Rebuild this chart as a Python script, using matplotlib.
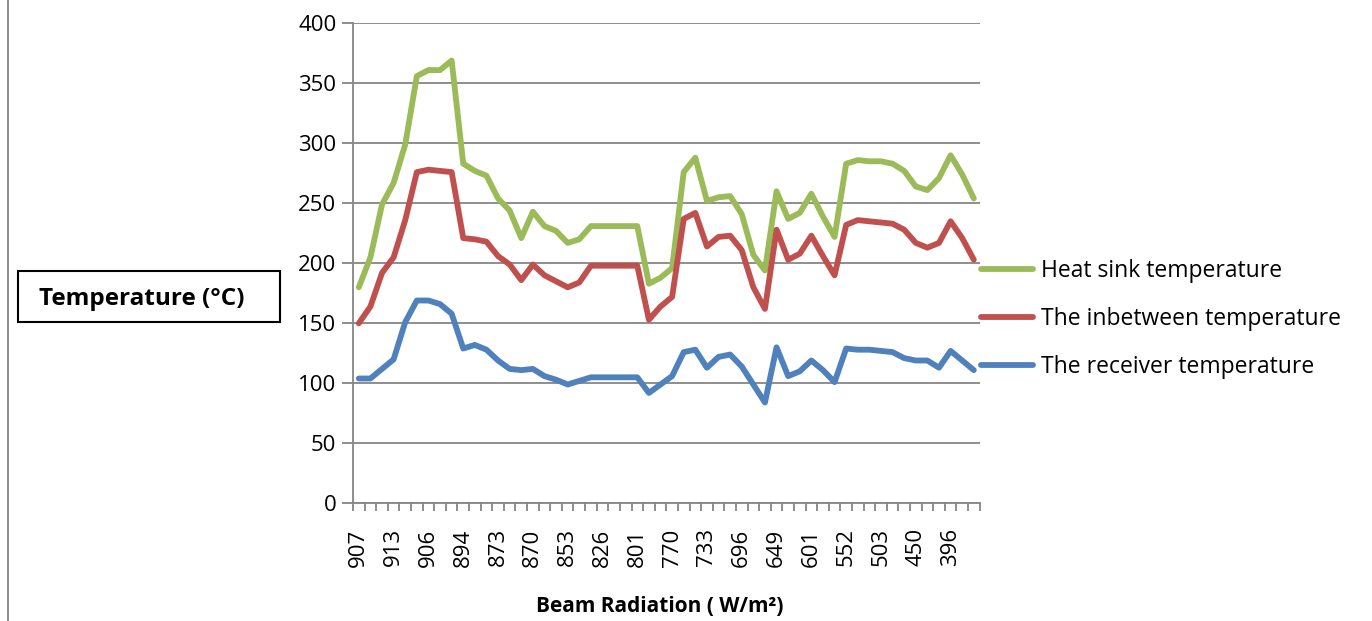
import numpy as np
import matplotlib
matplotlib.use("Agg")
import matplotlib.pyplot as plt
from matplotlib.patches import Rectangle
from matplotlib.lines import Line2D

# readings, one per measurement (54 of them), x labels shown every 3rd point
beam_labels = ["907", "913", "906", "894", "873", "870", "853", "826", "801",
               "770", "733", "696", "649", "601", "552", "503", "450", "396"]

heat_sink = [180, 205, 249, 267, 299, 356, 361, 361, 369, 283,
             277, 273, 254, 244, 221, 243, 231, 227, 217, 220,
             231, 231, 231, 231, 231, 183, 188, 196, 276, 288,
             252, 255, 256, 241, 207, 194, 260, 237, 242, 258,
             239, 222, 283, 286, 285, 285, 283, 277, 264, 261,
             271, 290, 274, 254]

inbetween = [150, 164, 192, 205, 236, 276, 278, 277, 276, 221,
             220, 218, 206, 199, 186, 199, 190, 185, 180, 184,
             198, 198, 198, 198, 198, 153, 164, 172, 237, 242,
             214, 222, 223, 211, 180, 162, 228, 203, 208, 223,
             206, 190, 232, 236, 235, 234, 233, 228, 217, 213,
             217, 235, 221, 203]

receiver = [104, 104, 112, 120, 151, 169, 169, 166, 158, 129,
            132, 128, 119, 112, 111, 112, 106, 103, 99, 102,
            105, 105, 105, 105, 105, 92, 99, 106, 126, 128,
            113, 122, 124, 114, 99, 84, 130, 106, 110, 119,
            111, 101, 129, 128, 128, 127, 126, 121, 119, 119,
            113, 127, 119, 111]

GREEN = "#9BBB59"
RED = "#C0504D"
BLUE = "#4F81BD"
GRID = "#868686"

plt.rcParams["font.family"] = ["Open Sans", "DejaVu Sans"]

fig = plt.figure(figsize=(13.72, 6.21), dpi=100)
ax = fig.add_axes([0.2573, 0.1895, 0.4567, 0.773])

x = np.arange(len(heat_sink))
ax.plot(x, heat_sink, color=GREEN, lw=4.2, solid_joinstyle="round", solid_capstyle="round",
        label="Heat sink temperature")
ax.plot(x, inbetween, color=RED, lw=4.2, solid_joinstyle="round", solid_capstyle="round",
        label="The inbetween temperature")
ax.plot(x, receiver, color=BLUE, lw=4.2, solid_joinstyle="round", solid_capstyle="round",
        label="The receiver temperature")

ax.set_xlim(-0.5, len(x) - 0.5)
ax.set_ylim(0, 400)
ax.set_yticks(np.arange(0, 401, 50))
ax.yaxis.grid(True, color=GRID, lw=1.3)
ax.set_axisbelow(True)

ax.set_xticks(np.arange(0, len(x), 3))
ax.set_xticklabels(beam_labels, rotation=90)
ax.set_xticks(np.arange(-0.5, len(x), 1), minor=True)
ax.tick_params(axis="x", which="major", length=0, pad=18, labelsize=16)
ax.tick_params(axis="x", which="minor", length=6, color=GRID, width=1.3)
ax.tick_params(axis="y", length=8, color=GRID, width=1.3, labelsize=16, pad=4)

for s in ["top", "right"]:
    ax.spines[s].set_visible(False)
for s in ["left", "bottom"]:
    ax.spines[s].set_color(GRID)
    ax.spines[s].set_linewidth(1.3)

# legend to the right of the plot
leg = ax.legend(loc="center left", bbox_to_anchor=(0.715, 0.486), bbox_transform=fig.transFigure,
                frameon=False, fontsize=16.5, handlelength=2.27, handletextpad=0.35,
                labelspacing=1.06, borderaxespad=0, borderpad=0)

# boxed y axis title
fig.patches.append(Rectangle((18 / 1372, 1 - 322 / 621), 262 / 1372, 51 / 621,
                             transform=fig.transFigure, fill=False, ec="black", lw=1.5))
fig.text(142 / 1372, 1 - 299 / 621, "Temperature (°C)", ha="center", va="center",
         fontsize=17.5, fontweight="bold")

fig.text(660 / 1372, 1 - 607 / 621, "Beam Radiation ( W/m²)", ha="center", va="center",
         fontsize=15, fontweight="bold")

# chart area border on the left
fig.add_artist(Line2D([8 / 1372, 8 / 1372], [0, 1], transform=fig.transFigure, color=GRID, lw=1.3))

fig.savefig("out.png", dpi=100)
